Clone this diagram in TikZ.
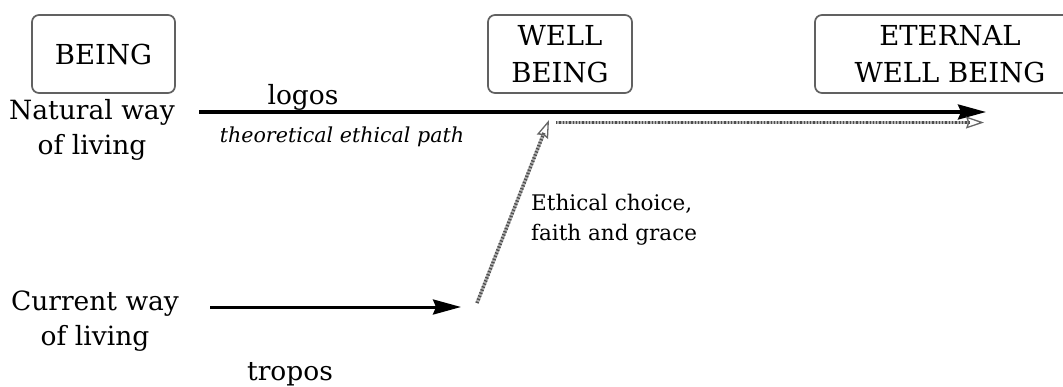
\documentclass[tikz,border=0pt]{standalone}
\usepackage{fontspec}
\setmainfont{DejaVu Serif}
\usetikzlibrary{arrows.meta}
\begin{document}
\begin{tikzpicture}[x=1pt,y=-1pt,
  box/.style={draw=black!62, line width=1.7pt, rounded corners=7pt, inner sep=0pt,
    align=center, minimum height=78pt, font=\fontsize{27.5}{37}\selectfont},
  lbl/.style={align=center, inner sep=0pt, font=\fontsize{26.5}{35}\selectfont},
  small/.style={align=left, inner sep=0pt, font=\fontsize{21.5}{30}\selectfont},
  solidarrow/.style={line width=3.2pt, -{Stealth[length=28pt,width=15pt,inset=3pt]}},
  hatchbase/.style={draw=black!30, line width=3.4pt},
  hatch/.style={draw=black!70, line width=3.4pt, dash pattern=on 1.3pt off 2pt},
  openhead/.style={-{Stealth[open,length=18pt,width=12pt,inset=2pt,line width=1.3pt]}}
]
\useasboundingbox (0,0) rectangle (1063,386);

% boxes
\node[box, minimum width=143pt] (being) at (103.5,54) {BEING};
\node[box, minimum width=144pt] (well) at (560,54) {WELL\\BEING};
\node[box, minimum width=270pt] (eternal) at (950,54) {ETERNAL\\WELL BEING};

% side labels
\node[lbl] (natural) at (92,130) {Natural way\\of living};
\node[lbl] (current) at (95,321) {Current way\\of living};

\node[lbl, anchor=base] (logos) at (303,104) {logos};
\node[anchor=base, inner sep=0pt, font=\fontsize{20.6}{26}\selectfont\itshape] (theo) at (342,142) {theoretical ethical path};
\node[lbl, anchor=base] (tropos) at (290,380) {tropos};
\node[small, anchor=west] (ethical) at (531,220) {Ethical choice,\\faith and grace};

% coordinates for arrows
\coordinate (ns) at (199,112);
\coordinate (ne) at (986,112);
\coordinate (cs) at (210,307);
\coordinate (ce) at (461,307);
\coordinate (ds) at (477,303);
\coordinate (dm) at (549,120);
\coordinate (hs) at (556,122.5);
\coordinate (he) at (984,122.5);

% solid arrows
\draw[solidarrow] (ns) -- (ne);
\draw[solidarrow, line width=3pt] (cs) -- (ce);

% hatched paths
\draw[hatchbase, shorten >=14pt] (ds) -- (dm);
\draw[hatch, shorten >=14pt] (ds) -- (dm);
\draw[openhead, draw=black!60, line width=0.01pt, dash pattern=on 2pt off 1.5pt] (ds) -- (dm);
\draw[hatchbase, shorten >=14pt] (hs) -- (he);
\draw[hatch, shorten >=14pt] (hs) -- (he);
\draw[openhead, draw=black!60, line width=0.01pt, dash pattern=on 2pt off 1.5pt] (hs) -- (he);
\end{tikzpicture}
\end{document}
